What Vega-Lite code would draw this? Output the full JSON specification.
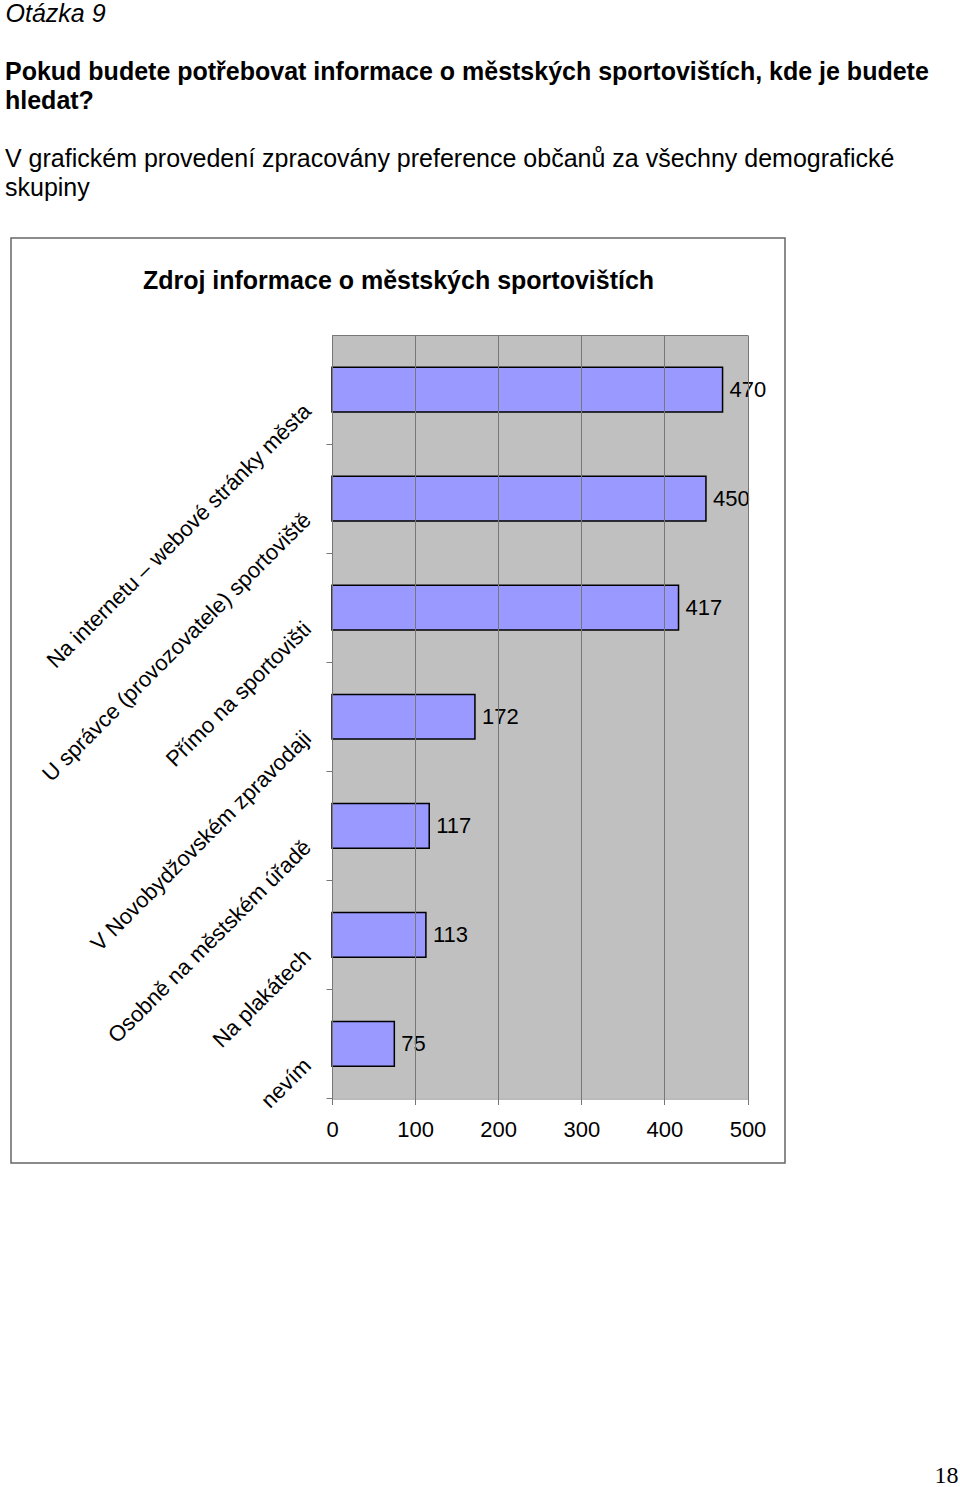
{
  "$schema": "https://vega.github.io/schema/vega-lite/v6.json",
  "width": 774,
  "height": 925,
  "autosize": {"type": "none"},
  "padding": {"left": 11, "top": 238, "right": 175, "bottom": 324},
  "background": "white",
  "config": {
    "view": {"stroke": "#666666", "strokeWidth": 1.5, "fill": "white"},
    "font": "Liberation Sans",
    "axis": {"labelFont": "Liberation Sans", "titleFont": "Liberation Sans"}
  },
  "title": {
    "text": ["Pokud budete potřebovat informace o městských sportovištích, kde je budete", "hledat?"],
    "subtitle": ["V grafickém provedení zpracovány preference občanů za všechny demografické", "skupiny"],
    "anchor": "start",
    "frame": "group",
    "orient": "top",
    "offset": -200,
    "dx": -6,
    "font": "Liberation Sans",
    "fontSize": 25,
    "fontWeight": "bold",
    "color": "black",
    "lineHeight": 29,
    "subtitleFont": "Liberation Sans",
    "subtitleFontSize": 25,
    "subtitleFontWeight": "normal",
    "subtitleColor": "black",
    "subtitleLineHeight": 29,
    "subtitlePadding": 33
  },
  "data": {
    "values": [
      {"zdroj": "Na internetu – webové stránky města", "pocet": 470},
      {"zdroj": "U správce (provozovatele) sportoviště", "pocet": 450},
      {"zdroj": "Přímo na sportovišti", "pocet": 417},
      {"zdroj": "V Novobydžovském zpravodaji", "pocet": 172},
      {"zdroj": "Osobně na městském úřadě", "pocet": 117},
      {"zdroj": "Na plakátech", "pocet": 113},
      {"zdroj": "nevím", "pocet": 75}
    ]
  },
  "layer": [
    {
      "mark": {"type": "bar", "fill": "#9999FF", "stroke": "#000000", "strokeWidth": 1.5, "zindex": 2},
      "encoding": {
        "y": {
          "field": "zdroj", "type": "nominal", "sort": null,
          "scale": {"range": [97, 860.5], "paddingInner": 0.59, "paddingOuter": 0.295},
          "axis": {
            "orient": "left", "offset": -321,
            "title": "Otázka 9", "titleAngle": 0, "titleAlign": "left", "titleBaseline": "alphabetic",
            "titleX": -327, "titleY": -217, "titleFontSize": 25, "titleFontStyle": "italic",
            "titleFontWeight": "normal", "titleColor": "black",
            "labelAngle": -45, "labelAlign": "right", "labelBaseline": "middle",
            "labelFontSize": 22, "labelColor": "black", "labelPadding": 19, "labelOffset": -37,
            "labelLimit": 1000, "labelOverlap": false,
            "tickOffset": 54.5, "tickSize": 6, "tickColor": "#777777",
            "domainColor": "#777777", "domainWidth": 1, "grid": false, "zindex": 1
          }
        },
        "x": {
          "field": "pocet", "type": "quantitative",
          "scale": {"domain": [0, 500], "range": [321, 736.5], "nice": false, "zero": true},
          "axis": {
            "orient": "bottom", "offset": -64.5, "values": [0, 100, 200, 300, 400, 500],
            "grid": false, "ticks": false,
            "domainColor": "#777777",
            "labelFontSize": 22, "labelColor": "black", "labelPadding": 21,
            "labelFlush": false, "labelOverlap": false,
            "title": "18", "titleFont": "Liberation Serif", "titleFontSize": 24,
            "titleFontWeight": "normal", "titleColor": "black", "titleAlign": "right",
            "titleBaseline": "alphabetic", "titleX": 947, "titleY": 384, "zindex": 1
          }
        }
      }
    },
    {
      "mark": {"type": "text", "align": "left", "baseline": "middle", "dx": 7, "fontSize": 22, "color": "black", "zindex": 2},
      "encoding": {
        "y": {
          "field": "zdroj", "type": "nominal", "sort": null,
          "axis": {
            "orient": "left", "labels": false, "ticks": false, "domain": false,
            "grid": true, "gridColor": "#C0C0C0", "gridWidth": 109.07, "gridOpacity": 1,
            "title": null, "zindex": 0
          }
        },
        "x": {
          "field": "pocet", "type": "quantitative",
          "axis": {
            "orient": "top", "offset": -97, "labels": false, "grid": false,
            "values": [0, 100, 200, 300, 400, 500],
            "ticks": true, "tickSize": -769.5, "tickColor": "#777777", "tickWidth": 1,
            "domain": true, "domainColor": "#777777",
            "title": "Zdroj informace o městských sportovištích", "titleFontSize": 25,
            "titleFontWeight": "bold", "titleColor": "black", "titleX": 387, "titleY": -47,
            "titleAlign": "center", "titleBaseline": "alphabetic", "zindex": 1
          }
        },
        "text": {"field": "pocet", "type": "quantitative"}
      }
    }
  ],
  "resolve": {"axis": {"x": "independent", "y": "independent"}}
}
